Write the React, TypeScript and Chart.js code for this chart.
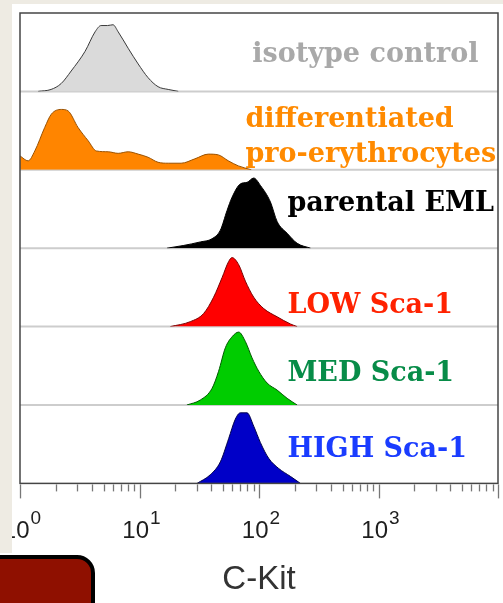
import React, { useEffect, useRef } from 'react';
import { Chart, registerables } from 'chart.js';

Chart.register(...registerables);

// ---- data (C-Kit intensity, relative cell counts per panel) ----
const isotypeX = [1.42, 1.82, 2.21, 2.68, 3.5, 4.25, 4.77, 5.4, 6.0, 6.63, 8.04, 9.75, 11.8, 14.3, 17.4, 21.1];
const isotypeY = [0, 2.5, 10, 26, 51, 76, 84, 84, 85, 76, 55, 35, 17.5, 6, 2.5, 0];

const diffX = [1, 1.17, 1.33, 1.61, 1.83, 2.22, 2.53, 3.06, 3.72, 4.36, 5.47, 6.63, 8.04, 9.75, 11.8, 14.3, 17.4, 22.3, 29.1, 37.7, 45.7, 55.4, 67.2, 86.3];
const diffY = [17.7, 11.4, 24, 54, 71, 77, 75, 54, 37, 24, 23, 21, 23, 20, 16, 9.6, 8.4, 8.4, 14, 20, 19, 11.4, 5, 0];

const parentalX = [17.0, 23.2, 32.3, 40.4, 47.5, 54.0, 59.5, 69.8, 79.4, 90.3, 102.8, 124.6, 141.8, 172, 208.5, 269.8];
const parentalY = [0, 3.4, 8, 12, 23, 48, 65, 82, 84, 89.5, 80, 59, 34, 19, 6.3, 0];

const lowX = [18.1, 26.6, 34.4, 41.7, 49.1, 55.7, 59.5, 67.6, 76.9, 90.3, 109.5, 141.8, 183, 208.5];
const lowY = [0, 6.3, 16.7, 37.5, 62.5, 83, 88, 79, 58, 37.5, 23, 12.5, 3.4, 0];

const medX = [24.9, 32.3, 40.4, 45.9, 52.3, 59.5, 67.6, 76.9, 87.5, 99.5, 116.9, 141.8, 172, 208.5];
const medY = [0, 6.4, 21, 43, 73, 87, 93, 81, 60, 43, 28, 19, 8.5, 0];

const highX = [30.3, 39.1, 47.5, 55.7, 63.4, 69.8, 79.4, 90.3, 102.8, 120.5, 146.2, 183, 222.3];
const highY = [0, 11, 27.5, 57, 82, 90, 90, 73, 52, 32, 19, 9, 0];

const panelLabels = [
  ['isotype control'],
  ['differentiated', 'pro-erythrocytes'],
  ['parental EML'],
  ['LOW Sca-1'],
  ['MED Sca-1'],
  ['HIGH Sca-1'],
];

const xTickValues = [
  1, 2, 3, 4, 5, 6, 7, 8, 9,
  10, 20, 30, 40, 50, 60, 70, 80, 90,
  100, 200, 300, 400, 500, 600, 700, 800, 900,
  1000, 2000, 3000, 4000, 5000, 6000, 7000, 8000, 9000,
  10000,
];
const decadeLabels = [
  { base: '10', exp: '0', value: 1 },
  { base: '10', exp: '1', value: 10 },
  { base: '10', exp: '2', value: 100 },
  { base: '10', exp: '3', value: 1000 },
];

// ---- styles ----
const series = [
  { x: isotypeX, y: isotypeY, fill: '#dadada', line: '#3a3a3a', text: '#a9a9a9' },
  { x: diffX, y: diffY, fill: '#ff8500', line: '#9a5200', text: '#ff8a00' },
  { x: parentalX, y: parentalY, fill: '#000000', line: '#000000', text: '#000000' },
  { x: lowX, y: lowY, fill: '#ff0000', line: '#7a0000', text: '#ff2200' },
  { x: medX, y: medY, fill: '#00cc00', line: '#005a00', text: '#078c48' },
  { x: highX, y: highY, fill: '#0000c8', line: '#00004a', text: '#1a3cff' },
];
// annotation anchors: x in data units, baseline y in panel units (0..100)
const labelAnchorX = [88, 77, 173, 173, 173, 173];
const labelAnchorY = [[38], [55, 10.5], [48], [17], [31], [34]];

const axisIds = series.map((_, i) => 'y' + i);

const decorPlugin = {
  id: 'decor',
  beforeDatasetsDraw(chart: any) {
    const { ctx } = chart;
    const a = chart.chartArea;
    ctx.save();
    ctx.strokeStyle = '#cdcdcd';
    ctx.lineWidth = 2;
    for (let i = 0; i < axisIds.length - 1; i++) {
      const s = chart.scales[axisIds[i]];
      const y = s.getPixelForValue(0);
      ctx.beginPath();
      ctx.moveTo(a.left, y);
      ctx.lineTo(a.right, y);
      ctx.stroke();
    }
    ctx.restore();
  },
  afterDraw(chart: any) {
    const { ctx } = chart;
    const a = chart.chartArea;
    const xs = chart.scales.x;
    ctx.save();
    // frame
    ctx.strokeStyle = '#454545';
    ctx.lineWidth = 1.5;
    ctx.strokeRect(a.left, a.top, a.right - a.left, a.bottom - a.top);
    // tick marks
    ctx.strokeStyle = '#777777';
    ctx.lineWidth = 1.3;
    for (const t of xs.ticks) {
      const px = Math.round(xs.getPixelForValue(t.value)) + 0.5;
      const lg = Math.log10(t.value);
      const major = Math.abs(lg - Math.round(lg)) < 1e-9;
      ctx.beginPath();
      ctx.moveTo(px, a.bottom + 1);
      ctx.lineTo(px, a.bottom + (major ? 15 : 8));
      ctx.stroke();
    }
    // tick labels 10^n
    ctx.fillStyle = '#1e1e1e';
    ctx.textBaseline = 'alphabetic';
    ctx.textAlign = 'left';
    const mainFont = '24px "Liberation Sans", Arial, sans-serif';
    const supFont = '19px "Liberation Sans", Arial, sans-serif';
    for (const d of decadeLabels) {
      const px = xs.getPixelForValue(d.value);
      ctx.font = mainFont;
      const w1 = ctx.measureText(d.base).width;
      ctx.font = supFont;
      const w2 = ctx.measureText(d.exp).width;
      const start = px + 2 - (w1 + w2 + 1) / 2;
      ctx.font = mainFont;
      ctx.fillText(d.base, start, a.bottom + 55);
      ctx.font = supFont;
      ctx.fillText(d.exp, start + w1 + 1, a.bottom + 41);
    }
    // panel annotations
    ctx.font = 'bold 27px "DejaVu Serif", serif';
    panelLabels.forEach((lines, i) => {
      const ys = chart.scales[axisIds[i]];
      const px = xs.getPixelForValue(labelAnchorX[i]);
      ctx.fillStyle = series[i].text;
      lines.forEach((txt, j) => {
        ctx.fillText(txt, px, ys.getPixelForValue(labelAnchorY[i][j]));
      });
    });
    ctx.restore();
  },
};

export default function App() {
  const ref = useRef<HTMLCanvasElement | null>(null);

  useEffect(() => {
    if (!ref.current) return;
    const scales: any = {
      x: {
        type: 'logarithmic',
        position: 'bottom',
        min: 1,
        max: 10000,
        afterBuildTicks: (s: any) => {
          s.ticks = xTickValues.map((v) => ({ value: v }));
        },
        ticks: { display: false },
        grid: { display: false },
        border: { display: false },
        title: {
          display: true,
          text: 'C-Kit',
          color: '#333333',
          font: { family: '"Liberation Sans", Arial, sans-serif', size: 33 },
          padding: { top: 69, bottom: 3 },
        },
      },
    };
    axisIds.forEach((id, i) => {
      scales[id] = {
        type: 'linear',
        position: 'left',
        min: 0,
        max: 100,
        display: false,
        stack: 'panels',
        stackWeight: 1,
        weight: axisIds.length - i,
      };
    });
    const chart = new Chart(ref.current, {
      type: 'line',
      data: {
        datasets: series.map((s, i) => ({
          label: panelLabels[i].join(' '),
          data: s.x.map((x, k) => ({ x, y: s.y[k] })),
          yAxisID: axisIds[i],
          backgroundColor: s.fill,
          borderColor: s.line,
          borderWidth: 1,
          fill: 'start',
          pointRadius: 0,
          cubicInterpolationMode: 'monotone',
        })),
      },
      options: {
        animation: false,
        responsive: false,
        layout: { padding: { left: 20, top: 13, right: 5, bottom: 0 } },
        plugins: { legend: { display: false }, tooltip: { enabled: false } },
        scales,
      },
      plugins: [decorPlugin],
    } as any);
    if ((document as any).fonts && (document as any).fonts.load) {
      Promise.all([
        (document as any).fonts.load('bold 27px "DejaVu Serif"'),
        (document as any).fonts.load('24px "Liberation Sans"'),
      ]).then(() => chart.update()).catch(() => {});
    }
    return () => chart.destroy();
  }, []);

  return (
    <div style={{ position: 'absolute', left: 0, top: 0, width: 503, height: 603, background: '#ffffff', overflow: 'hidden' }}>
      <canvas ref={ref} width={503} height={603} style={{ display: 'block', position: 'absolute', left: 0, top: 0 }} />
      <div style={{ position: 'absolute', left: 0, top: 0, width: 503, height: 4, background: '#eeebe3' }} />
      <div style={{ position: 'absolute', left: 0, top: 0, width: 12, height: 553, background: '#eeebe3' }} />
      <div style={{ position: 'absolute', left: -20, top: 555, width: 115, height: 80, boxSizing: 'border-box', background: '#8f1000', border: '4px solid #000', borderRadius: 18 }} />
    </div>
  );
}
